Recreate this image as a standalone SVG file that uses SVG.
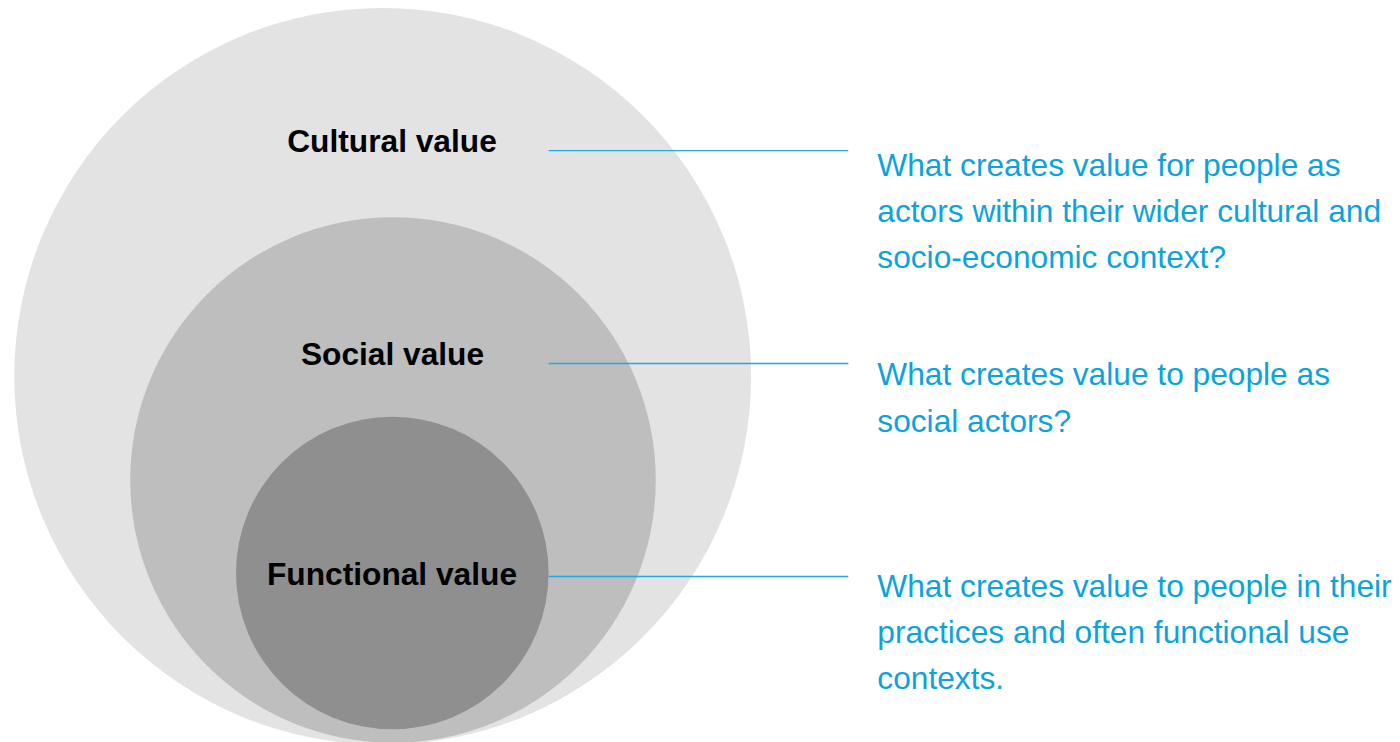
<svg xmlns="http://www.w3.org/2000/svg" width="1400" height="742" viewBox="0 0 1400 742">
<style>
.lbl{font-family:"Liberation Sans",Arial,sans-serif;font-weight:bold;font-size:31.7px;fill:#000;text-anchor:middle}
.q{font-family:"Liberation Sans",Arial,sans-serif;font-size:31.7px;fill:#0ca3db}
.con{stroke:#22a9e0;stroke-width:1.3;fill:none}
</style>
<rect width="1400" height="742" fill="#fff"/>
<g id="cultural">
<circle cx="382.7" cy="376.3" r="368.4" fill="#e3e3e3"/>
</g>
<g id="social">
<circle cx="393" cy="480" r="262.8" fill="#bebebe"/>
</g>
<g id="functional">
<circle cx="392.3" cy="573" r="156.3" fill="#8f8f8f"/>
</g>
<g id="labels">
<text class="lbl" x="392" y="152.3">Cultural value</text>
<text class="lbl" x="392.5" y="365">Social value</text>
<text class="lbl" x="392" y="585">Functional value</text>
</g>
<g id="connectors">
<line class="con" x1="548.7" y1="150.7" x2="848.3" y2="150.7"/>
<line class="con" x1="548.7" y1="363.5" x2="848.3" y2="363.5"/>
<line class="con" x1="548.7" y1="576.5" x2="848.3" y2="576.5"/>
</g>
<g id="q-cultural">
<text class="q" x="877.3" y="175.7">What creates value for people as</text>
<text class="q" x="877.3" y="221.7">actors within their wider cultural and</text>
<text class="q" x="877.3" y="267.7">socio-economic context?</text>
</g>
<g id="q-social">
<text class="q" x="877.3" y="385.3">What creates value to people as</text>
<text class="q" x="877.3" y="431.5">social actors?</text>
</g>
<g id="q-functional">
<text class="q" x="877.3" y="596.5">What creates value to people in their</text>
<text class="q" x="877.3" y="642.5">practices and often functional use</text>
<text class="q" x="877.3" y="688.5">contexts.</text>
</g>
</svg>
